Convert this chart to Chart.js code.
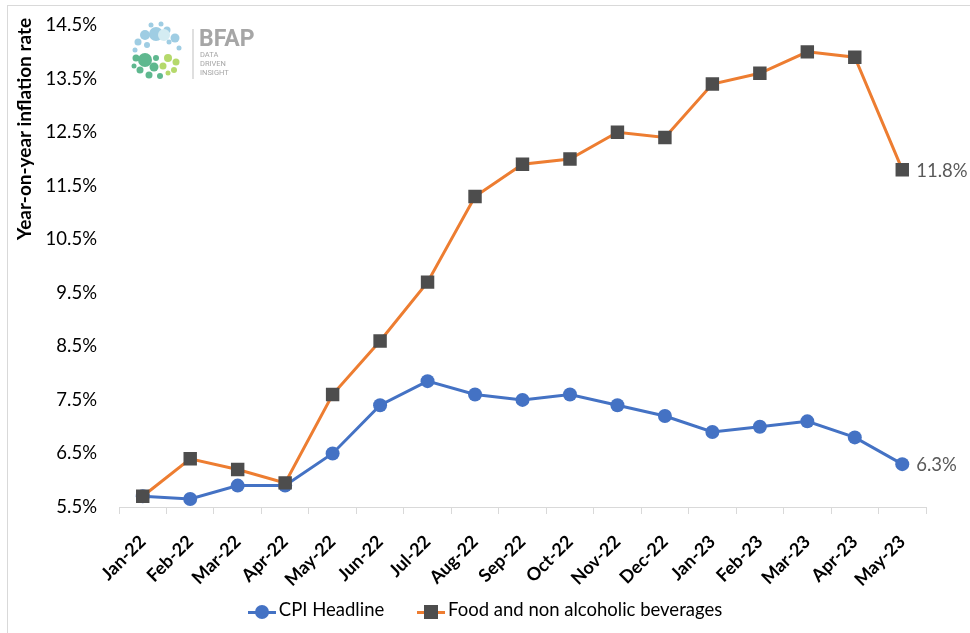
<!DOCTYPE html>
<html>
<head>
<meta charset="utf-8">
<script src="https://cdn.jsdelivr.net/npm/chart.js@4"></script>
<style>
  body { margin: 0; background: #fff; font-family: Lato, "Open Sans", sans-serif; }
  #wrap { position: relative; width: 970px; height: 633px; }
  #frame { position: absolute; left: 7px; top: 5px; right: -2px; bottom: -2px; border-top: 1px solid #d9d9d9; border-left: 1px solid #d9d9d9; }
  #ytitle { position: absolute; left: 23px; top: 129px; transform: translate(-50%, -50%) rotate(-90deg); white-space: nowrap; font-weight: bold; font-size: 19px; color: #000; }
  #legend { position: absolute; left: 0; width: 970px; top: 596px; text-align: center; font-size: 18.5px; color: #000; }
  .item { display: inline-block; margin: 0 14px; vertical-align: middle; }
  .key { display: inline-block; position: relative; width: 28px; height: 14px; vertical-align: middle; margin-right: 3px; }
  .key .ln { position: absolute; left: 0; right: 0; top: 6px; height: 3px; }
  .key .mk { position: absolute; left: 7px; top: 0; width: 14px; height: 14px; }
  #logo { position: absolute; left: 127px; top: 21px; }
</style>
</head>
<body>
<div id="wrap">
  <div id="frame"></div>
  <canvas id="lineeChart" width="970" height="633"></canvas>
  <div id="ytitle">Year-on-year inflation rate</div>
  <div id="logo">
    <svg width="130" height="62" xmlns="http://www.w3.org/2000/svg">
      <g fill="#9fcde3">
        <circle cx="29" cy="13" r="7"/><circle cx="18" cy="14" r="5"/><circle cx="40" cy="9" r="3.5"/>
        <circle cx="11" cy="21" r="3.5"/><circle cx="48" cy="17" r="4.5"/><circle cx="24" cy="4" r="2.5"/>
        <circle cx="34" cy="3" r="2.5"/><circle cx="8" cy="29" r="2.5"/><circle cx="52" cy="27" r="2.5"/>
        <circle cx="20" cy="24" r="3"/><circle cx="42" cy="21" r="2.5"/>
      </g>
      <g fill="#d4ecf2"><circle cx="37" cy="14" r="6"/></g>
      <g fill="#5fb88f">
        <circle cx="18" cy="39" r="7"/><circle cx="9" cy="37" r="3.5"/><circle cx="27" cy="46" r="4.5"/>
        <circle cx="13" cy="49" r="3.5"/><circle cx="22" cy="54" r="3.5"/><circle cx="33" cy="55" r="3"/>
        <circle cx="7" cy="45" r="2.5"/><circle cx="29" cy="37" r="3"/>
      </g>
      <g fill="#b5d96b">
        <circle cx="41" cy="37" r="4"/><circle cx="49" cy="41" r="3.5"/><circle cx="36" cy="45" r="3.5"/>
        <circle cx="47" cy="49" r="3"/><circle cx="41" cy="52" r="2.5"/>
      </g>
      <line x1="66" y1="8" x2="66" y2="58" stroke="#bfbfbf" stroke-width="1"/>
      <text x="72" y="25" font-family="Roboto, Arial, sans-serif" font-weight="bold" font-size="23" fill="#a6a6a6">BFAP</text>
      <text x="73" y="36" font-family="Roboto, Arial, sans-serif" font-size="7.5" fill="#a6a6a6">DATA</text>
      <text x="73" y="45" font-family="Roboto, Arial, sans-serif" font-size="7.5" fill="#a6a6a6">DRIVEN</text>
      <text x="73" y="54" font-family="Roboto, Arial, sans-serif" font-size="7.5" fill="#a6a6a6">INSIGHT</text>
    </svg>
  </div>
  <div id="legend">
    <span class="item"><span class="key"><span class="ln" style="background:#4472C4"></span><span class="mk" style="background:#4472C4;border-radius:50%"></span></span>CPI Headline</span>
    <span class="item"><span class="key"><span class="ln" style="background:#ED7D31"></span><span class="mk" style="background:#4D4D4D"></span></span>Food and non alcoholic beverages</span>
  </div>
</div>
<script>
var months = ['Jan-22', 'Feb-22', 'Mar-22', 'Apr-22', 'May-22', 'Jun-22', 'Jul-22', 'Aug-22', 'Sep-22',
    'Oct-22', 'Nov-22', 'Dec-22', 'Jan-23', 'Feb-23', 'Mar-23', 'Apr-23', 'May-23'];
var cpiHeadline = [5.7, 5.65, 5.9, 5.9, 6.5, 7.4, 7.85, 7.6, 7.5, 7.6, 7.4, 7.2, 6.9, 7.0, 7.1, 6.8, 6.3];
var foodBev = [5.7, 6.4, 6.2, 5.95, 7.6, 8.6, 9.7, 11.3, 11.9, 12.0, 12.5, 12.4, 13.4, 13.6, 14.0, 13.9, 11.8];
var yTicks = [5.5, 6.5, 7.5, 8.5, 9.5, 10.5, 11.5, 12.5, 13.5, 14.5];

// label on the last point of each line
var lastLabel = {
    id: 'lastLabel',
    afterDatasetsDraw: function (chart) {
        var ctx = chart.ctx;
        ctx.save();
        ctx.font = '18.5px Lato, "Open Sans", sans-serif';
        ctx.fillStyle = '#595959';
        ctx.textBaseline = 'middle';
        chart.data.datasets.forEach(function (ds, i) {
            var pts = chart.getDatasetMeta(i).data;
            var p = pts[pts.length - 1];
            ctx.fillText(ds.data[ds.data.length - 1].toFixed(1) + '%', p.x + 14, p.y + 1);
        });
        ctx.restore();
    }
};

var ctxx = document.getElementById('lineeChart').getContext('2d');
var myChart = new Chart(ctxx, {
    type: 'line',
    data: {
        labels: months,
        datasets: [{
            label: 'CPI Headline',
            data: cpiHeadline,
            borderColor: '#4472C4',
            backgroundColor: '#4472C4',
            borderWidth: 3,
            pointStyle: 'circle',
            pointRadius: 7,
            pointBorderWidth: 0,
            order: 2
        }, {
            label: 'Food and non alcoholic beverages',
            data: foodBev,
            borderColor: '#ED7D31',
            backgroundColor: '#4D4D4D',
            pointBackgroundColor: '#4D4D4D',
            pointBorderColor: '#4D4D4D',
            borderWidth: 3,
            pointStyle: 'rect',
            pointRadius: 9.5,
            pointBorderWidth: 0,
            order: 1
        }]
    },
    options: {
        responsive: false,
        animation: false,
        layout: { padding: { left: 8, right: 44, top: 15, bottom: 0 } },
        plugins: {
            legend: { display: false },
            tooltip: { enabled: false }
        },
        scales: {
            x: {
                offset: true,
                grid: { display: true, offset: true, drawOnChartArea: false, drawTicks: true, tickLength: 7, color: '#d9d9d9' },
                border: { display: true, color: '#d9d9d9', width: 1 },
                ticks: {
                    autoSkip: false, maxRotation: 45, minRotation: 45,
                    color: '#000', font: { family: 'Lato, "Open Sans", sans-serif', size: 18, weight: 'bold' },
                    padding: 17
                },
                afterFit: function (scale) { scale.height = 126; }
            },
            y: {
                min: 5.5,
                max: 14.5,
                afterBuildTicks: function (scale) {
                    scale.ticks = yTicks.map(function (v) { return { value: v }; });
                },
                grid: { display: false },
                border: { display: false },
                ticks: {
                    color: '#000', font: { family: 'Lato, "Open Sans", sans-serif', size: 18.5 },
                    padding: 14,
                    callback: function (v) { return v.toFixed(1) + '%'; }
                },
                afterFit: function (scale) { scale.width = 111; }
            }
        }
    },
    plugins: [lastLabel]
});
</script>
</body>
</html>
